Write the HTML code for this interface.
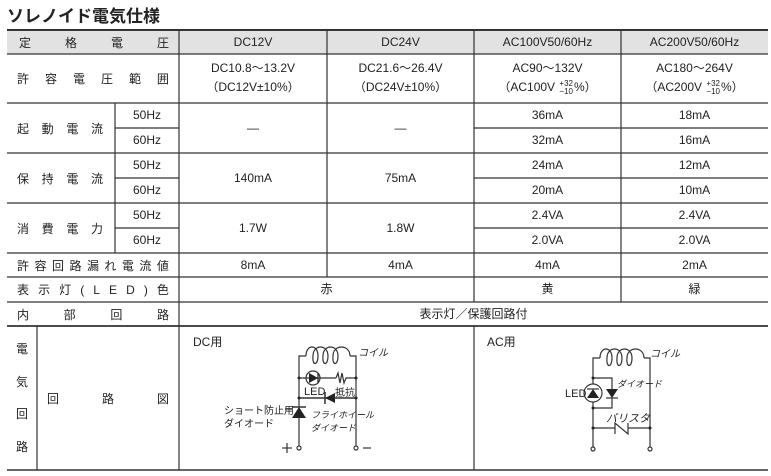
<!DOCTYPE html>
<html><head><meta charset="utf-8"><style>
*{margin:0;padding:0;box-sizing:border-box}
body{width:771px;height:476px;background:#fff;position:relative;overflow:hidden;font-family:"Liberation Sans","Noto Sans CJK JP",sans-serif;color:#222}
.t{position:absolute;font-size:12px;text-align:center;display:flex;align-items:center;justify-content:center;line-height:15px}
.s{position:absolute;font-size:12px;display:flex;align-items:center;justify-content:space-between}
.a{position:absolute;white-space:nowrap}
sup.f{display:inline-block;font-size:8px;line-height:8px;vertical-align:middle;text-align:center;margin:0 1px}
</style></head><body>
<div class="a" style="left:7px;top:2px;font-size:17px;font-weight:bold;color:#222">ソレノイド電気仕様</div>
<svg width="771" height="476" style="position:absolute;left:0;top:0">
<rect x="7" y="30" width="761" height="24" fill="#e2e2e2"/>
<g stroke="#333" stroke-width="1.2" fill="none">
<line x1="7" y1="30" x2="768" y2="30" stroke-width="2"/>
<line x1="7" y1="54" x2="768" y2="54"/>
<line x1="7" y1="103" x2="768" y2="103"/>
<line x1="115" y1="128" x2="179" y2="128"/>
<line x1="474" y1="128" x2="768" y2="128"/>
<line x1="7" y1="153" x2="768" y2="153"/>
<line x1="115" y1="178" x2="179" y2="178"/>
<line x1="474" y1="178" x2="768" y2="178"/>
<line x1="7" y1="203" x2="768" y2="203"/>
<line x1="115" y1="228" x2="179" y2="228"/>
<line x1="474" y1="228" x2="768" y2="228"/>
<line x1="7" y1="253" x2="768" y2="253"/>
<line x1="7" y1="277" x2="768" y2="277"/>
<line x1="7" y1="302" x2="768" y2="302"/>
<line x1="7" y1="326" x2="768" y2="326" stroke-width="1.8"/>
<line x1="7" y1="470" x2="768" y2="470" stroke-width="1.5"/>
<line x1="179" y1="30" x2="179" y2="470"/>
<line x1="115" y1="103" x2="115" y2="253"/>
<line x1="37" y1="326" x2="37" y2="470"/>
<line x1="327" y1="30" x2="327" y2="277"/>
<line x1="474" y1="30" x2="474" y2="302"/>
<line x1="474" y1="326" x2="474" y2="470"/>
<line x1="621" y1="30" x2="621" y2="302"/>
</g>
<g stroke="#333" stroke-width="1.2" fill="none">
<path d="M299 448 V356 H306 M356 448 V356 H350"/>
<path d="M306 356 C306 344 318 344 318 356 C318 366 312 366 313 356 C313 344 328 344 328 356 C328 366 322 366 323 356 C323 344 338 344 338 356 C338 366 332 366 333 356 C333 344 350 344 350 356"/>
<line x1="299" y1="378" x2="336" y2="378"/>
<path d="M336 378 l2 -5 l2 10 l2 -10 l2 10 l2 -5 H356"/>
<circle cx="313" cy="378" r="7"/>
<line x1="299" y1="398" x2="356" y2="398" stroke-width="1.5"/>
<line x1="325" y1="392" x2="325" y2="404" stroke-width="1.5"/>
<line x1="292" y1="407" x2="306" y2="407" stroke-width="1.5"/>
<line x1="285" y1="409" x2="292" y2="409"/>
<circle cx="299" cy="448" r="2" fill="#fff"/>
<circle cx="356" cy="448" r="2" fill="#fff"/>
<line x1="282" y1="448" x2="292" y2="448"/><line x1="287" y1="443" x2="287" y2="453"/>
<line x1="363" y1="448" x2="371" y2="448"/>
</g>
<g fill="#222">
<polygon points="309,373 309,383 318,378"/>
<line x1="318" y1="373" x2="318" y2="383" stroke="#222" stroke-width="1.2"/>
<polygon points="325,398 335,393 335,403"/>
<polygon points="299,407 292,418 306,418"/>
<circle cx="299" cy="378" r="1.5"/><circle cx="356" cy="378" r="1.5"/>
<circle cx="299" cy="398" r="1.5"/><circle cx="356" cy="398" r="1.5"/>
</g>
<g stroke="#333" stroke-width="1.2" fill="none">
<path d="M593 449 V358 H600 M650 449 V358 H644"/>
<path d="M600 358 C600 346 612 346 612 358 C612 368 606 368 607 358 C607 346 622 346 622 358 C622 368 616 368 617 358 C617 346 632 346 632 358 C632 368 626 368 627 358 C627 346 644 346 644 358"/>
<path d="M593 378 H612 V408 H593"/>
<circle cx="593" cy="393" r="9" fill="#fff"/>
<line x1="587" y1="389" x2="599" y2="389"/>
<line x1="606" y1="398" x2="618" y2="398"/>
<path d="M593 428 H615 M615 434 V423 L628 434 V423 M628 428 H650"/>
<circle cx="593" cy="449" r="2" fill="#fff"/>
<circle cx="650" cy="449" r="2" fill="#fff"/>
</g>
<g fill="#222">
<polygon points="593,389 587,398 599,398"/>
<polygon points="612,398 606,389 618,389"/>
<circle cx="593" cy="378" r="1.5"/><circle cx="593" cy="408" r="1.5"/>
<circle cx="593" cy="428" r="1.5"/><circle cx="650" cy="428" r="1.5"/>
</g>
</svg>
<div class="s" style="left:19px;top:30px;width:150px;height:24px"><span>定</span><span>格</span><span>電</span><span>圧</span></div>
<div class="t" style="left:179px;top:30px;width:148px;height:24px">DC12V</div>
<div class="t" style="left:327px;top:30px;width:147px;height:24px">DC24V</div>
<div class="t" style="left:474px;top:30px;width:147px;height:24px">AC100V50/60Hz</div>
<div class="t" style="left:621px;top:30px;width:147px;height:24px">AC200V50/60Hz</div>

<div class="s" style="left:17px;top:54px;width:152px;height:49px"><span>許</span><span>容</span><span>電</span><span>圧</span><span>範</span><span>囲</span></div>
<div class="t" style="left:179px;top:58px;width:148px;height:40px;flex-direction:column;line-height:19px"><div>DC10.8～13.2V</div><div>（DC12V±10%）</div></div>
<div class="t" style="left:327px;top:58px;width:147px;height:40px;flex-direction:column;line-height:19px"><div>DC21.6～26.4V</div><div>（DC24V±10%）</div></div>
<div class="t" style="left:474px;top:58px;width:147px;height:40px;flex-direction:column;line-height:19px"><div>AC90～132V</div><div>（AC100V <sup class="f">+32<br>−10</sup>%）</div></div>
<div class="t" style="left:621px;top:58px;width:147px;height:40px;flex-direction:column;line-height:19px"><div>AC180～264V</div><div>（AC200V <sup class="f">+32<br>−10</sup>%）</div></div>

<div class="s" style="left:17px;top:103px;width:86px;height:50px"><span>起</span><span>動</span><span>電</span><span>流</span></div>
<div class="s" style="left:17px;top:153px;width:86px;height:50px"><span>保</span><span>持</span><span>電</span><span>流</span></div>
<div class="s" style="left:17px;top:203px;width:86px;height:50px"><span>消</span><span>費</span><span>電</span><span>力</span></div>
<div class="t" style="left:115px;top:103px;width:64px;height:25px">50Hz</div>
<div class="t" style="left:115px;top:128px;width:64px;height:25px">60Hz</div>
<div class="t" style="left:115px;top:153px;width:64px;height:25px">50Hz</div>
<div class="t" style="left:115px;top:178px;width:64px;height:25px">60Hz</div>
<div class="t" style="left:115px;top:203px;width:64px;height:25px">50Hz</div>
<div class="t" style="left:115px;top:228px;width:64px;height:25px">60Hz</div>

<div class="t" style="left:179px;top:103px;width:148px;height:50px">—</div>
<div class="t" style="left:327px;top:103px;width:147px;height:50px">—</div>
<div class="t" style="left:474px;top:103px;width:147px;height:25px">36mA</div>
<div class="t" style="left:621px;top:103px;width:147px;height:25px">18mA</div>
<div class="t" style="left:474px;top:128px;width:147px;height:25px">32mA</div>
<div class="t" style="left:621px;top:128px;width:147px;height:25px">16mA</div>
<div class="t" style="left:179px;top:153px;width:148px;height:50px">140mA</div>
<div class="t" style="left:327px;top:153px;width:147px;height:50px">75mA</div>
<div class="t" style="left:474px;top:153px;width:147px;height:25px">24mA</div>
<div class="t" style="left:621px;top:153px;width:147px;height:25px">12mA</div>
<div class="t" style="left:474px;top:178px;width:147px;height:25px">20mA</div>
<div class="t" style="left:621px;top:178px;width:147px;height:25px">10mA</div>
<div class="t" style="left:179px;top:203px;width:148px;height:50px">1.7W</div>
<div class="t" style="left:327px;top:203px;width:147px;height:50px">1.8W</div>
<div class="t" style="left:474px;top:203px;width:147px;height:25px">2.4VA</div>
<div class="t" style="left:621px;top:203px;width:147px;height:25px">2.4VA</div>
<div class="t" style="left:474px;top:228px;width:147px;height:25px">2.0VA</div>
<div class="t" style="left:621px;top:228px;width:147px;height:25px">2.0VA</div>

<div class="s" style="left:17px;top:253px;width:152px;height:24px"><span>許</span><span>容</span><span>回</span><span>路</span><span>漏</span><span>れ</span><span>電</span><span>流</span><span>値</span></div>
<div class="t" style="left:179px;top:253px;width:148px;height:24px">8mA</div>
<div class="t" style="left:327px;top:253px;width:147px;height:24px">4mA</div>
<div class="t" style="left:474px;top:253px;width:147px;height:24px">4mA</div>
<div class="t" style="left:621px;top:253px;width:147px;height:24px">2mA</div>

<div class="s" style="left:17px;top:277px;width:152px;height:25px"><span>表</span><span>示</span><span>灯</span><span>(</span><span>L</span><span>E</span><span>D</span><span>)</span><span>色</span></div>
<div class="t" style="left:179px;top:277px;width:295px;height:25px">赤</div>
<div class="t" style="left:474px;top:277px;width:147px;height:25px">黄</div>
<div class="t" style="left:621px;top:277px;width:147px;height:25px">緑</div>

<div class="s" style="left:17px;top:302px;width:152px;height:24px"><span>内</span><span>部</span><span>回</span><span>路</span></div>
<div class="t" style="left:179px;top:302px;width:589px;height:24px">表示灯／保護回路付</div>

<div class="s" style="left:7px;top:340px;width:30px;height:115px;flex-direction:column"><span>電</span><span>気</span><span>回</span><span>路</span></div>
<div class="s" style="left:47px;top:326px;width:122px;height:144px"><span>回</span><span>路</span><span>図</span></div>

<div class="a" style="left:193px;top:333px;font-size:12px">DC用</div>
<div class="a" style="left:358px;top:344px;font-size:10px;font-style:italic">コイル</div>
<div class="a" style="left:304px;top:386px;font-size:11px">LED</div>
<div class="a" style="left:335px;top:384px;font-size:10px">抵抗</div>
<div class="a" style="left:224px;top:402px;font-size:10px">ショート防止用</div>
<div class="a" style="left:224px;top:415px;font-size:10px">ダイオード</div>
<div class="a" style="left:311px;top:408px;font-size:9px;font-style:italic">フライホイール</div>
<div class="a" style="left:311px;top:421px;font-size:9px;font-style:italic">ダイオード</div>

<div class="a" style="left:487px;top:333px;font-size:12px">AC用</div>
<div class="a" style="left:650px;top:345px;font-size:10px;font-style:italic">コイル</div>
<div class="a" style="left:565px;top:388px;font-size:11px">LED</div>
<div class="a" style="left:617px;top:377px;font-size:9px;font-style:italic">ダイオード</div>
<div class="a" style="left:606px;top:410px;font-size:11px;font-style:italic">バリスタ</div>
</body></html>
